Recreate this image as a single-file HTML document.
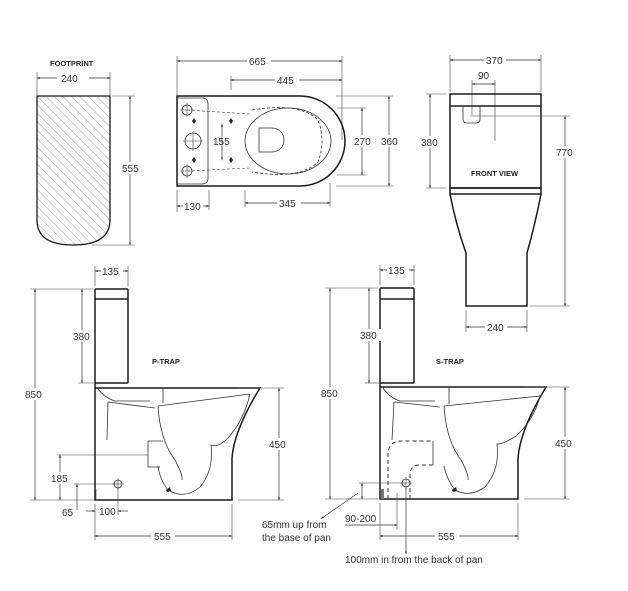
<!DOCTYPE html>
<html><head><meta charset="utf-8"><style>
html,body{margin:0;padding:0;background:#fff;}
svg{display:block;}
text{font-family:"Liberation Sans",sans-serif;font-size:10px;fill:#333;}
.b{font-weight:bold;font-size:7.5px;fill:#222;}
.o{fill:none;stroke:#1a1a1a;stroke-width:1.5;}
.t{fill:none;stroke:#333;stroke-width:0.8;}
.d{fill:none;stroke:#333;stroke-width:0.7;marker-start:url(#a);marker-end:url(#a);}
.e{fill:none;stroke:#444;stroke-width:0.6;}
.ds{fill:none;stroke:#333;stroke-width:1;stroke-dasharray:4 3;}
</style></head><body>
<svg width="628" height="591" viewBox="0 0 628 591">
<defs>
<marker id="a" viewBox="0 0 10 10" refX="5" refY="5" markerWidth="5" markerHeight="5" orient="auto-start-reverse"><path d="M0 2 L10 5 L0 8z" fill="#333"/></marker>
<pattern id="h" width="6" height="6" patternUnits="userSpaceOnUse" patternTransform="rotate(-45)"><line x1="0" y1="0" x2="0" y2="6" stroke="#888" stroke-width="0.8"/></pattern>
</defs>
<rect width="628" height="591" fill="#fff"/>

<!-- FOOTPRINT -->
<text class="b" x="50" y="66">FOOTPRINT</text>
<line class="e" x1="37" y1="72" x2="37" y2="95"/><line class="e" x1="110" y1="72" x2="110" y2="95"/>
<line class="d" x1="38" y1="78" x2="109" y2="78"/>
<rect x="57" y="72" width="32" height="12" fill="#fff"/><text x="61" y="82">240</text>
<path d="M37 96 H110 V220 Q110 245 73 245 Q37 245 37 220 Z" fill="url(#h)" stroke="#1a1a1a" stroke-width="1.3"/>
<line class="e" x1="112" y1="96" x2="135" y2="96"/><line class="e" x1="92" y1="245" x2="135" y2="245"/>
<line class="d" x1="130" y1="97" x2="130" y2="244"/>
<rect x="120" y="162" width="22" height="12" fill="#fff"/><text x="122" y="172">555</text>

<!-- TOP VIEW -->
<line class="e" x1="177" y1="56" x2="177" y2="95"/><line class="e" x1="342" y1="56" x2="342" y2="140"/>
<line class="d" x1="178" y1="61" x2="341" y2="61"/>
<rect x="247" y="55" width="24" height="12" fill="#fff"/><text x="249" y="65">665</text>
<line class="e" x1="231" y1="76" x2="231" y2="90"/>
<line class="d" x1="232" y1="80" x2="341" y2="80"/>
<rect x="275" y="74" width="24" height="12" fill="#fff"/><text x="277" y="84">445</text>
<path class="o" d="M177 96 H300 A45 45 0 0 1 300 186 H177 Z"/>
<path class="t" d="M177 98 H202 Q208 98 208 104 V178 Q208 184 202 184 H177"/>
<circle class="t" cx="187" cy="110" r="5"/><circle class="t" cx="187" cy="171" r="5"/><circle class="t" cx="193" cy="141" r="8"/>
<path class="e" d="M180 110h14M187 103v14M180 171h14M187 164v14M183 141h20M193 131v20"/>
<path d="M192 121l2-3 2 3-2 3zM192 160l2-3 2 3-2 3zM229 121l2-3 2 3-2 3zM229 160l2-3 2 3-2 3z" fill="#222"/>
<path class="e" d="M187 110 L250 114 M187 171 L250 168" stroke-dasharray="3 2"/>
<ellipse class="t" cx="288" cy="141" rx="43" ry="33"/>
<path class="t" d="M252 110 Q300 102 318 120 Q326 141 318 162 Q300 180 252 172" stroke-dasharray="3 2"/>
<path class="t" d="M259 128 H272 A12 12 0 0 1 272 152 H259 Z"/>
<line class="d" x1="222" y1="125" x2="222" y2="159"/>
<text x="213" y="145">155</text>
<line class="e" x1="337" y1="108" x2="366" y2="108"/><line class="e" x1="337" y1="175" x2="366" y2="175"/>
<line class="d" x1="362" y1="109" x2="362" y2="174"/>
<rect x="352" y="135" width="22" height="12" fill="#fff"/><text x="354" y="145">270</text>
<line class="e" x1="336" y1="96" x2="393" y2="96"/><line class="e" x1="336" y1="186" x2="393" y2="186"/>
<line class="d" x1="389" y1="97" x2="389" y2="185"/>
<rect x="379" y="135" width="22" height="12" fill="#fff"/><text x="381" y="145">360</text>
<line class="e" x1="209" y1="190" x2="209" y2="210"/><line class="e" x1="177" y1="190" x2="177" y2="212"/>
<line class="d" x1="178" y1="206" x2="208" y2="206"/>
<rect x="183" y="200" width="20" height="12" fill="#fff"/><text x="184" y="210">130</text>
<line class="e" x1="245" y1="190" x2="245" y2="207"/><line class="e" x1="330" y1="183" x2="330" y2="207"/>
<line class="d" x1="246" y1="203" x2="329" y2="203"/>
<rect x="277" y="197" width="24" height="12" fill="#fff"/><text x="279" y="207">345</text>

<!-- FRONT VIEW -->
<line class="e" x1="450" y1="55" x2="450" y2="92"/><line class="e" x1="541" y1="55" x2="541" y2="92"/>
<line class="d" x1="451" y1="60" x2="540" y2="60"/>
<rect x="484" y="54" width="22" height="12" fill="#fff"/><text x="486" y="64">370</text>
<line class="e" x1="472" y1="80" x2="472" y2="115"/><line class="e" x1="495" y1="80" x2="495" y2="141"/>
<line class="d" x1="473" y1="84" x2="494" y2="84"/>
<text x="478" y="79">90</text>
<rect class="o" x="450" y="94" width="91" height="12" fill="#fff"/>
<path class="o" d="M450 106 V188 H541 V106"/>
<rect class="o" x="450" y="188" width="91" height="6"/>
<path class="t" d="M463 106 V119 Q463 123 467 123 H476 Q480 123 480 119 V106"/>
<line class="e" x1="470" y1="116" x2="570" y2="116"/>
<text class="b" x="471" y="176">FRONT VIEW</text>
<path class="o" d="M450 194 Q456 225 466 253 V306 H527 V253 Q535 225 541 194"/>
<line class="e" x1="426" y1="94" x2="446" y2="94"/><line class="e" x1="426" y1="188" x2="446" y2="188"/>
<line class="d" x1="430" y1="95" x2="430" y2="187"/>
<rect x="420" y="136" width="22" height="12" fill="#fff"/><text x="421" y="146">380</text>
<line class="e" x1="530" y1="306" x2="570" y2="306"/>
<line class="d" x1="565" y1="117" x2="565" y2="305"/>
<rect x="555" y="146" width="22" height="12" fill="#fff"/><text x="556" y="156">770</text>
<line class="e" x1="466" y1="310" x2="466" y2="332"/><line class="e" x1="527" y1="310" x2="527" y2="332"/>
<line class="d" x1="467" y1="327" x2="526" y2="327"/>
<rect x="485" y="321" width="22" height="12" fill="#fff"/><text x="487" y="331">240</text>

<!-- P-TRAP -->
<line class="e" x1="95" y1="266" x2="95" y2="286"/><line class="e" x1="128" y1="266" x2="128" y2="286"/>
<line class="d" x1="96" y1="271" x2="127" y2="271"/>
<rect x="101" y="265" width="22" height="12" fill="#fff"/><text x="102" y="275">135</text>
<rect class="o" x="95" y="289" width="33" height="94" rx="1"/>
<line class="o" x1="95" y1="299" x2="128" y2="299"/>
<path class="o" d="M95 383 V500 H232 V458 Q234 430 260 388 H95"/>
<path class="t" d="M97 388 Q105 398 115 401 L150 401 M108 402 L107 440 M108 402 L155 408 M163 388 V403 M158 406 L250 394 M158 406 Q160 440 175 460 Q183 475 182 480 M250 394 Q244 420 228 438 Q218 448 211 445 Q214 470 200 487 Q185 500 168 490 Q160 480 158 466"/>
<path class="t" d="M148 441 H163 M148 441 V467 H160"/>
<path d="M166 490l4-3 1 4-4 1z" fill="#222"/>
<line class="e" x1="96" y1="489" x2="96" y2="499"/>
<text class="b" x="152" y="364">P-TRAP</text>
<line class="e" x1="30" y1="289" x2="93" y2="289"/><line class="e" x1="30" y1="500" x2="95" y2="500"/>
<line class="d" x1="35" y1="290" x2="35" y2="499"/>
<rect x="24" y="388" width="22" height="12" fill="#fff"/><text x="25" y="398">850</text>
<line class="d" x1="82" y1="290" x2="82" y2="382"/>
<line class="e" x1="78" y1="383" x2="95" y2="383"/>
<rect x="72" y="330" width="22" height="12" fill="#fff"/><text x="73" y="340">380</text>
<line class="e" x1="57" y1="455" x2="148" y2="455"/>
<line class="d" x1="60" y1="456" x2="60" y2="499"/>
<rect x="50" y="472" width="22" height="12" fill="#fff"/><text x="51" y="482">185</text>
<line class="e" x1="74" y1="484" x2="118" y2="484"/>
<line class="d" x1="77" y1="485" x2="77" y2="510" style="marker-end:none"/>
<text x="62" y="516">65</text>
<circle class="t" cx="118" cy="484" r="4"/><path class="e" d="M112 484h12M118 478v12"/>
<line class="e" x1="118" y1="488" x2="118" y2="515"/>
<line class="e" x1="95" y1="504" x2="95" y2="540"/>
<line class="d" x1="86" y1="511" x2="94" y2="511" style="marker-start:none"/>
<line class="d" x1="119" y1="511" x2="128" y2="511" style="marker-end:none"/>
<text x="99" y="515">100</text>
<line class="e" x1="232" y1="504" x2="232" y2="540"/>
<line class="d" x1="96" y1="536" x2="231" y2="536"/>
<rect x="151" y="530" width="24" height="12" fill="#fff"/><text x="154" y="540">555</text>
<line class="e" x1="238" y1="388" x2="284" y2="388"/><line class="e" x1="238" y1="500" x2="284" y2="500"/>
<line class="d" x1="279" y1="389" x2="279" y2="499"/>
<rect x="268" y="438" width="22" height="12" fill="#fff"/><text x="269" y="448">450</text>

<!-- S-TRAP -->
<line class="e" x1="380" y1="265" x2="380" y2="285"/><line class="e" x1="414" y1="265" x2="414" y2="285"/>
<line class="d" x1="381" y1="270" x2="413" y2="270"/>
<rect x="387" y="264" width="22" height="12" fill="#fff"/><text x="388" y="274">135</text>
<rect class="o" x="380" y="288" width="34" height="95" rx="1"/>
<line class="o" x1="380" y1="299" x2="414" y2="299"/>
<path class="o" d="M380 383 V499 H518 V458 Q520 430 546 387 H380"/>
<path class="t" d="M383 388 Q390 398 400 401 L435 401 M394 402 L392 440 M394 402 L440 407 M449 387 V404 M444 406 L540 396 M444 406 Q446 440 461 460 Q469 475 468 480 M540 396 Q534 420 516 436 Q504 444 497 444 Q500 470 485 487 Q470 498 455 490 Q447 480 444 466"/>
<path d="M452 490l4-3 1 4-4 1z" fill="#222"/>
<path class="ds" d="M388 499 V455 Q388 441 402 441 H433"/>
<path class="ds" d="M410 499 V475 Q410 465 420 465 H433"/>
<path class="t" d="M433 441 V465"/>
<rect x="381" y="489" width="3" height="10" fill="#777"/>
<text class="b" x="436" y="364">S-TRAP</text>
<line class="e" x1="325" y1="288" x2="378" y2="288"/><line class="e" x1="325" y1="499" x2="378" y2="499"/>
<line class="d" x1="330" y1="289" x2="330" y2="498"/>
<rect x="320" y="387" width="22" height="12" fill="#fff"/><text x="321" y="397">850</text>
<line class="e" x1="365" y1="383" x2="380" y2="383"/>
<line class="d" x1="369" y1="289" x2="369" y2="382"/>
<rect x="359" y="329" width="22" height="12" fill="#fff"/><text x="360" y="339">380</text>
<line class="e" x1="359" y1="483" x2="406" y2="483"/>
<line class="d" x1="362" y1="484" x2="362" y2="498"/>
<circle class="t" cx="406" cy="483" r="4"/><path class="e" d="M400 483h12M406 477v12"/>
<line class="d" x1="358" y1="493" x2="322" y2="518" style="marker-start:none"/>
<text x="262" y="528">65mm up from</text>
<text x="262" y="541">the base of pan</text>
<line class="e" x1="397" y1="493" x2="397" y2="530"/>
<line class="d" x1="345" y1="525" x2="396" y2="525" style="marker-start:none"/>
<text x="345" y="522">90-200</text>
<line class="d" x1="406" y1="488" x2="406" y2="553" style="marker-start:none"/>
<text x="345" y="563">100mm in from the back of pan</text>
<line class="e" x1="380" y1="503" x2="380" y2="540"/><line class="e" x1="518" y1="503" x2="518" y2="540"/>
<line class="d" x1="381" y1="536" x2="517" y2="536"/>
<rect x="435" y="530" width="24" height="12" fill="#fff"/><text x="438" y="540">555</text>
<line class="e" x1="524" y1="387" x2="570" y2="387"/><line class="e" x1="524" y1="499" x2="570" y2="499"/>
<line class="d" x1="565" y1="388" x2="565" y2="498"/>
<rect x="554" y="437" width="22" height="12" fill="#fff"/><text x="555" y="447">450</text>
</svg>
</body></html>
